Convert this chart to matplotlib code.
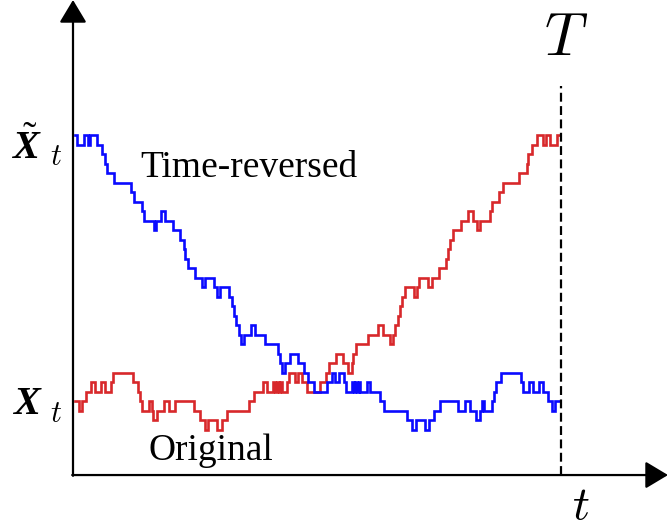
import numpy as np
import matplotlib
matplotlib.use("Agg")
import matplotlib.pyplot as plt

plt.rcParams["mathtext.fontset"] = "custom"
plt.rcParams["mathtext.rm"] = "Liberation Serif"
plt.rcParams["mathtext.it"] = "Liberation Serif:italic"
plt.rcParams["mathtext.bf"] = "Liberation Serif:italic:bold"

# Horizon of the process
T = 488

# Original jump path: time of each jump and the level held after it
jump_times = [
    1.5, 5.5, 8.5, 13, 17.7, 22, 27.7, 32, 37.7, 40,
    59.5, 64.5, 67, 68.7, 76.3, 78.7, 80.3, 84.3, 90.5, 95.5,
    102.3, 120.5, 127, 132, 135.3, 144.3, 148.7, 153.7, 176.3, 181,
    190.3, 193.7, 200.3, 202, 203.5, 205.5, 207, 209, 214.3, 216.3,
    222, 225.3, 228.7, 233.7, 247, 253, 256.3, 263, 270.3, 275.3,
    278.7, 280.3, 283, 295.3, 305.3, 309.7, 317, 319.7, 322, 324.8,
    326.8, 328.7, 331.5, 341, 344, 346.3, 355.3, 358.7, 366, 373,
    375.3, 377, 380.3, 387.7, 395.3, 399.7, 404.3, 407, 417, 418.7,
    426.3, 429.7, 446.3, 453.7, 455.3, 458.7, 463.7, 470.3, 473, 477,
    483.7,
]
jump_levels = [
    0, -1, 0, 1, 2, 1, 2, 1, 2, 3,
    2, 1, 0, -1, 0, -1, -2, -1, 0, -1,
    0, -1, -2, -3, -2, -3, -2, -1, 0, 1,
    2, 1, 2, 1, 2, 1, 2, 1, 2, 3,
    2, 3, 2, 1, 2, 3, 4, 5, 4, 3,
    4, 5, 6, 7, 8, 7, 6, 7, 8, 9,
    10, 11, 12, 11, 12, 13, 12, 13, 14, 15,
    16, 17, 18, 19, 20, 19, 18, 19, 20, 21,
    22, 23, 24, 25, 26, 27, 28, 27, 28, 27,
    28,
]
path_end = 486

RED = "#d8282b"
BLUE = "#0a0aff"

fig = plt.figure(figsize=(6.68, 5.29), dpi=100)
ax = fig.add_axes([0, 0, 1, 1])
ax.set_xlim(-73, 595)
ax.set_ylim(-13.47, 42.21)
ax.axis("off")

axis_level = -7.79

# Original path
edges = np.append(jump_times, path_end)
levels = np.asarray(jump_levels)
ax.step(edges, np.append(levels, levels[-1]), where="post",
        color=RED, lw=1.9, solid_joinstyle="miter")

# Time-reversed path: same path read backwards in time
rev_edges = (jump_times[0] + path_end) - edges[::-1]
rev_levels = levels[::-1]
ax.step(rev_edges, np.append(rev_levels, rev_levels[-1]), where="post",
        color=BLUE, lw=1.9, solid_joinstyle="miter")

# Axes with arrow heads
arrow = dict(arrowstyle="-|>,head_length=0.7,head_width=0.42",
             mutation_scale=20, lw=1.6, color="black",
             shrinkA=0, shrinkB=0)
ax.annotate("", xy=(0, 42.21), xytext=(0, axis_level - 0.08), arrowprops=arrow)
ax.annotate("", xy=(595, axis_level), xytext=(-0.8, axis_level), arrowprops=arrow)

# Horizon marker
ax.plot([T, T], [axis_level, 33.2], color="black", lw=1.6,
        linestyle=(0, (4.0, 2.0)))


def px(x, y):
    return x / 668, 1 - y / 529


fig.text(*px(140, 177), "Time-reversed", fontsize=27,
         family="Liberation Serif", ha="left", va="baseline")
fig.text(*px(148, 460), "Original", fontsize=27,
         family="Liberation Serif", ha="left", va="baseline")

fig.text(*px(566, 55), r"$T$", fontsize=43, math_fontfamily="cm",
         ha="center", va="baseline")
fig.text(*px(581, 519), r"$t$", fontsize=34, math_fontfamily="cm",
         ha="center", va="baseline")

fig.text(*px(11, 159), r"$\tilde{\mathbf{X}}$", fontsize=29,
         math_fontfamily="custom", ha="left", va="baseline")
fig.text(*px(50, 165), r"$t$", fontsize=22, math_fontfamily="cm",
         ha="left", va="baseline")
fig.text(*px(12, 414), r"$\mathbf{X}$", fontsize=29,
         math_fontfamily="custom", ha="left", va="baseline")
fig.text(*px(50, 422), r"$t$", fontsize=22, math_fontfamily="cm",
         ha="left", va="baseline")

fig.savefig("out.png", dpi=100)
